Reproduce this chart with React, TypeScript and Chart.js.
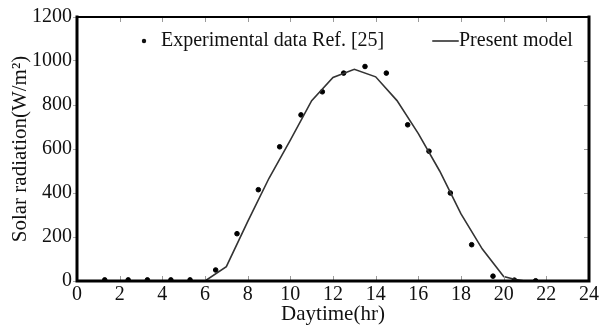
import React, { useEffect, useRef } from "react";
import { Chart, registerables } from "chart.js";

Chart.register(...registerables);

const expHours = [1.3, 2.4, 3.3, 4.4, 5.3, 6.5, 7.5, 8.5, 9.5, 10.5, 11.5, 12.5, 13.5, 14.5, 15.5, 16.5, 17.5, 18.5, 19.5, 20.5, 21.5];
const expValues = [5, 5, 5, 5, 5, 50, 215, 415, 610, 755, 860, 945, 975, 945, 710, 590, 400, 165, 22, 4, 1];
const modelHours = [6, 7, 8, 9, 10, 11, 12, 13, 14, 15, 16, 17, 18, 19, 20, 20.5, 21];
const modelValues = [0, 65, 270, 467, 640, 820, 925, 962, 928, 820, 670, 500, 305, 145, 20, 8, 0];
const xTickValues = [0, 2, 4, 6, 8, 10, 12, 14, 16, 18, 20, 22, 24];
const yTickValues = [0, 200, 400, 600, 800, 1000, 1200];
const expLabel = "Experimental data Ref. [25]";
const modelLabel = "Present model";
const xTitle = "Daytime(hr)";
const yTitle = "Solar radiation(W/m\u00B2)";

const FONT = "'Liberation Serif', 'Times New Roman', serif";

const framePlugin = {
  id: "frame",
  afterDraw(chart: any) {
    const { ctx, chartArea: a, scales } = chart;
    ctx.save();
    ctx.strokeStyle = "#9a9a9a";
    ctx.lineWidth = 1;
    ctx.beginPath();
    for (const v of xTickValues) {
      if (v === 0 || v === 24) continue;
      const px = Math.round(scales.x.getPixelForValue(v)) + 0.5;
      ctx.moveTo(px, a.bottom);
      ctx.lineTo(px, a.bottom - 5);
      ctx.moveTo(px, a.top);
      ctx.lineTo(px, a.top + 5);
    }
    for (const v of yTickValues) {
      if (v === 0 || v === 1200) continue;
      const py = Math.round(scales.y.getPixelForValue(v)) + 0.5;
      ctx.moveTo(a.right, py);
      ctx.lineTo(a.right - 5, py);
    }
    ctx.stroke();

    ctx.strokeStyle = "#000";
    ctx.lineCap = "square";
    ctx.lineWidth = 3;
    ctx.beginPath();
    ctx.moveTo(a.left, a.top);
    ctx.lineTo(a.left, a.bottom);
    ctx.lineTo(a.right, a.bottom);
    ctx.lineTo(a.right, a.top);
    ctx.stroke();
    ctx.lineWidth = 2;
    ctx.beginPath();
    ctx.moveTo(a.left, a.top);
    ctx.lineTo(a.right, a.top);
    ctx.stroke();

    // legend
    ctx.fillStyle = "#111";
    ctx.font = `20px ${FONT}`;
    ctx.textBaseline = "middle";
    const ly = a.top + 24;
    ctx.beginPath();
    ctx.arc(a.left + 67, ly, 2.2, 0, Math.PI * 2);
    ctx.fill();
    ctx.fillText(expLabel, a.left + 84, ly);
    ctx.strokeStyle = "#222";
    ctx.lineWidth = 1.5;
    ctx.beginPath();
    ctx.moveTo(a.left + 356, ly);
    ctx.lineTo(a.left + 381, ly);
    ctx.stroke();
    ctx.fillText(modelLabel, a.left + 382, ly);
    ctx.restore();
  },
};

export default function App() {
  const ref = useRef<HTMLCanvasElement>(null);
  useEffect(() => {
    document.body.style.margin = "0";
    const chart = new Chart(ref.current!, {
      type: "scatter",
      data: {
        datasets: [
          {
            label: modelLabel,
            data: modelHours.map((h, i) => ({ x: h, y: modelValues[i] })),
            showLine: true,
            borderColor: "#333",
            borderWidth: 1.6,
            pointRadius: 0,
            tension: 0,
          },
          {
            label: expLabel,
            data: expHours.map((h, i) => ({ x: h, y: expValues[i] })),
            showLine: false,
            backgroundColor: "#000",
            borderColor: "#000",
            pointRadius: 2.3,
          },
        ],
      },
      options: {
        responsive: false,
        animation: false,
        layout: { padding: { left: 0, top: 17, right: 9, bottom: 0 } },
        plugins: { legend: { display: false }, tooltip: { enabled: false } },
        scales: {
          x: {
            type: "linear",
            min: 0,
            max: 24,
            afterBuildTicks: (s: any) => {
              s.ticks = xTickValues.map((v) => ({ value: v }));
            },
            afterFit: (s: any) => {
              s.height = 46;
            },
            grid: { display: false, drawTicks: false },
            border: { display: false },
            ticks: {
              color: "#111",
              font: { family: FONT, size: 20 },
              padding: 2,
              maxRotation: 0,
              callback: (v: any) => String(v),
            },
            title: {
              display: true,
              text: xTitle,
              color: "#111",
              font: { family: FONT, size: 21 },
              padding: { top: 0, bottom: 0 },
            },
          },
          y: {
            type: "linear",
            min: 0,
            max: 1200,
            afterBuildTicks: (s: any) => {
              s.ticks = yTickValues.map((v) => ({ value: v }));
            },
            afterFit: (s: any) => {
              s.width = 77;
            },
            grid: { display: true, drawOnChartArea: false, drawTicks: true, tickLength: 4, color: "#aaa" },
            border: { display: false },
            ticks: {
              color: "#111",
              font: { family: FONT, size: 20 },
              padding: 1,
              callback: (v: any) => String(v),
            },
            title: {
              display: true,
              text: yTitle,
              color: "#111",
              font: { family: FONT, size: 21 },
              padding: { top: 8, bottom: 0 },
            },
          },
        },
      },
      plugins: [framePlugin],
    } as any);
    return () => chart.destroy();
  }, []);
  return (
    <div style={{ width: 601, height: 327 }}>
      <canvas ref={ref} width={601} height={327} />
    </div>
  );
}
